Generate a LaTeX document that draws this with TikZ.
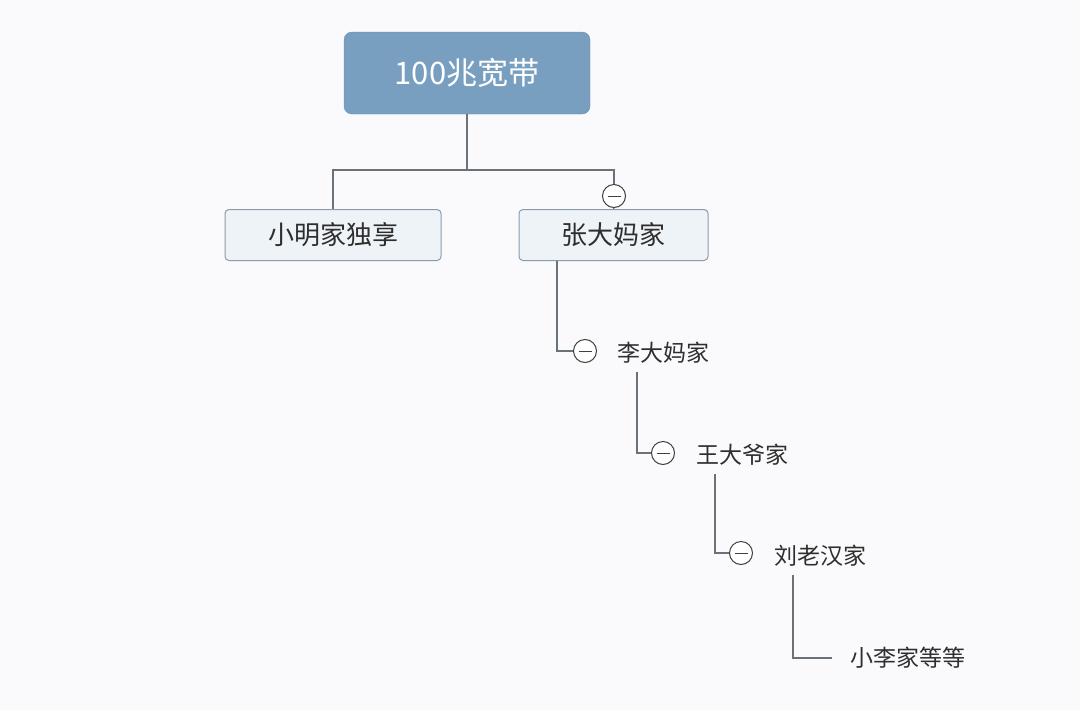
\documentclass[tikz,border=0pt]{standalone}
\usepackage{fontspec}
\newfontfamily\cjk{Noto Sans CJK SC}
\definecolor{rootblue}{HTML}{789FC0}
\definecolor{boxfill}{HTML}{EEF3F7}
\definecolor{boxline}{HTML}{8A9CAC}
\definecolor{linkgray}{HTML}{6A7178}
\definecolor{bgcol}{HTML}{FAFAFC}
\tikzset{
  root/.style={rectangle, rounded corners=8pt, fill=rootblue, draw=rootblue!90!black,
    minimum width=246pt, minimum height=82pt, text=white, font=\cjk\fontsize{31}{34}\selectfont},
  topic/.style={rectangle, rounded corners=4pt, fill=boxfill, draw=boxline, line width=1pt,
    minimum height=51pt, text=black!82, font=\cjk\fontsize{26}{29}\selectfont},
  leaf/.style={inner sep=0pt, text=black!82, font=\cjk\fontsize{23}{26}\selectfont},
  fold/.style={circle, draw=black!75, fill=white, line width=1pt, minimum size=23pt, inner sep=0pt,
    path picture={\draw[black!75, line width=1pt] ([xshift=-6.5pt]path picture bounding box.center)
      -- ([xshift=6.5pt]path picture bounding box.center);}},
  link/.style={draw=linkgray, line width=1.2pt}
}
\begin{document}
\begin{tikzpicture}[x=1pt,y=-1pt]
  \fill[bgcol] (0,0) rectangle (1080,710);
  \useasboundingbox (0,0) rectangle (1080,710);
  \node (bw) at (467,73) [root] {100兆宽带};
  \node (xm) at (333,235) [topic, minimum width=216pt] {小明家独享};
  \node (zd) at (613.5,235) [topic, minimum width=189pt] {张大妈家};
  \node (c0) at (614,196) [fold] {};
  \coordinate (sp) at (467,170);
  \draw[link] (bw.south) -- (sp); \draw[link] (sp) -| (xm.north);
  \draw[link] (sp) -| (c0.north); \draw[link] (c0.south) -- (zd.north);
  \node (c1) at (585,351) [fold] {}; \node (ld) at (663,353) [leaf] {李大妈家};
  \node (c2) at (663,453) [fold] {}; \node (wd) at (742,455) [leaf] {王大爷家};
  \node (c3) at (741,553) [fold] {}; \node (lh) at (820,556) [leaf] {刘老汉家};
  \node (xl) at (908,658) [leaf] {小李家等等};
  \draw[link] (zd.south -| 557,0) |- (c1.west);
  \draw[link] ([yshift=-8pt]ld.south -| 637,0) |- (c2.west);
  \draw[link] ([yshift=-8pt]wd.south -| 715,0) |- (c3.west);
  \draw[link] ([yshift=-8pt]lh.south -| 793,0) |- ([xshift=-18pt]xl.west);
\end{tikzpicture}
\end{document}
